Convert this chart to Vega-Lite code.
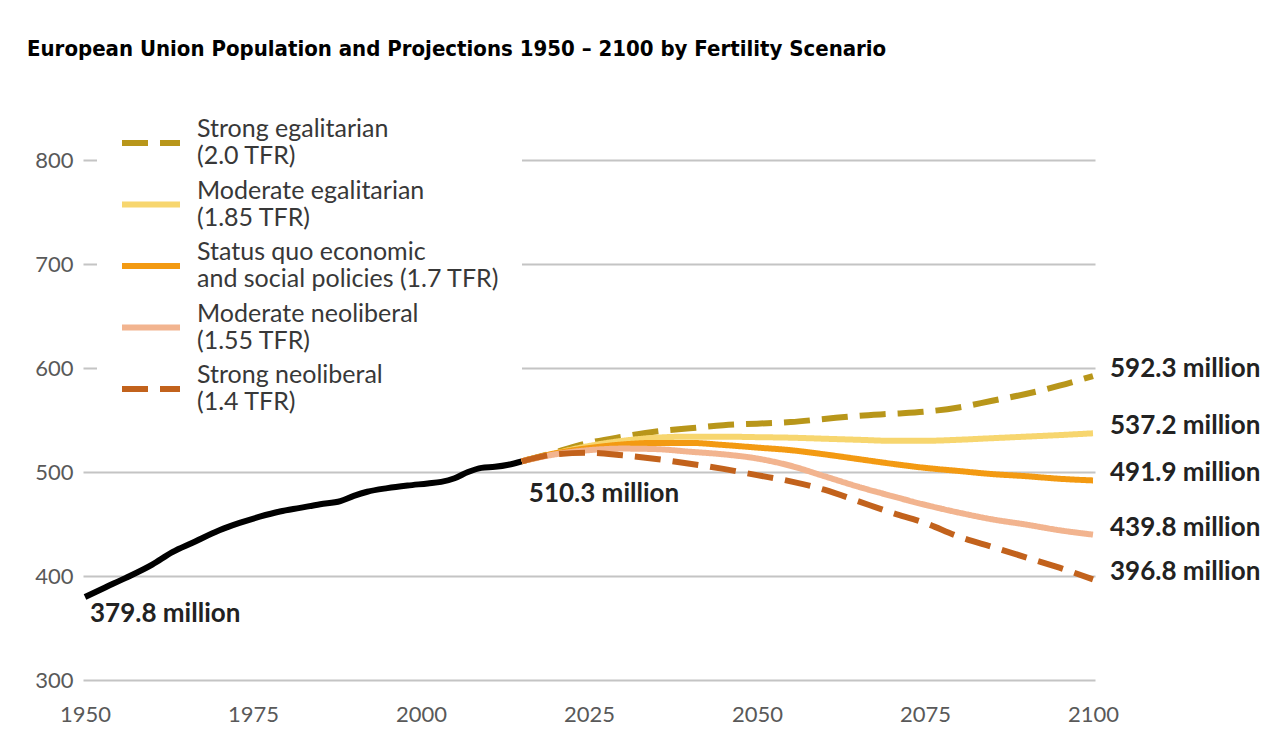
{
  "$schema": "https://vega.github.io/schema/vega-lite/v6.json",
  "width": 1012,
  "height": 520,
  "autosize": {"type": "none"},
  "padding": {"left": 83, "top": 160, "right": 185, "bottom": 75},
  "background": "white",
  "title": {
    "text": "European Union Population and Projections 1950 – 2100 by Fertility Scenario",
    "anchor": "start",
    "frame": "group",
    "font": "DejaVu Sans Condensed",
    "fontSize": 22,
    "fontWeight": "bold",
    "color": "black",
    "dx": -56,
    "offset": 28
  },
  "config": {
    "view": {"stroke": null},
    "style": {"guide-label": {"lineHeight": 27}},
    "axis": {
      "labelFont": "Lato",
      "labelFontSize": 22,
      "labelColor": "#595959",
      "domain": false,
      "ticks": false,
      "title": null
    }
  },
  "datasets": {
    "hist": [
      {"year": 1950, "pop": 379.8}, {"year": 1953, "pop": 389}, {"year": 1956, "pop": 398},
      {"year": 1960, "pop": 411}, {"year": 1963, "pop": 423}, {"year": 1966, "pop": 432},
      {"year": 1970, "pop": 444}, {"year": 1973, "pop": 451}, {"year": 1976, "pop": 457},
      {"year": 1979, "pop": 462}, {"year": 1982, "pop": 465.5}, {"year": 1985, "pop": 469},
      {"year": 1988, "pop": 472}, {"year": 1990, "pop": 477}, {"year": 1992, "pop": 481},
      {"year": 1995, "pop": 484.5}, {"year": 1998, "pop": 487}, {"year": 2001, "pop": 489},
      {"year": 2003, "pop": 490.5}, {"year": 2005, "pop": 494}, {"year": 2007, "pop": 500},
      {"year": 2009, "pop": 504}, {"year": 2011, "pop": 505}, {"year": 2013, "pop": 507},
      {"year": 2015, "pop": 510.3}
    ],
    "proj": [
      {"year": 2015, "scenario": "Strong egalitarian", "pop": 510.3},
      {"year": 2020, "scenario": "Strong egalitarian", "pop": 519},
      {"year": 2025, "scenario": "Strong egalitarian", "pop": 528},
      {"year": 2030, "scenario": "Strong egalitarian", "pop": 534},
      {"year": 2035, "scenario": "Strong egalitarian", "pop": 539},
      {"year": 2040, "scenario": "Strong egalitarian", "pop": 542},
      {"year": 2045, "scenario": "Strong egalitarian", "pop": 545},
      {"year": 2050, "scenario": "Strong egalitarian", "pop": 546.5},
      {"year": 2055, "scenario": "Strong egalitarian", "pop": 548},
      {"year": 2060, "scenario": "Strong egalitarian", "pop": 551},
      {"year": 2065, "scenario": "Strong egalitarian", "pop": 554},
      {"year": 2070, "scenario": "Strong egalitarian", "pop": 556},
      {"year": 2075, "scenario": "Strong egalitarian", "pop": 558},
      {"year": 2080, "scenario": "Strong egalitarian", "pop": 562},
      {"year": 2085, "scenario": "Strong egalitarian", "pop": 568.5},
      {"year": 2090, "scenario": "Strong egalitarian", "pop": 575},
      {"year": 2095, "scenario": "Strong egalitarian", "pop": 583},
      {"year": 2100, "scenario": "Strong egalitarian", "pop": 592.3},
      {"year": 2015, "scenario": "Moderate egalitarian", "pop": 510.3},
      {"year": 2020, "scenario": "Moderate egalitarian", "pop": 518},
      {"year": 2025, "scenario": "Moderate egalitarian", "pop": 525},
      {"year": 2030, "scenario": "Moderate egalitarian", "pop": 530},
      {"year": 2035, "scenario": "Moderate egalitarian", "pop": 533},
      {"year": 2040, "scenario": "Moderate egalitarian", "pop": 534},
      {"year": 2045, "scenario": "Moderate egalitarian", "pop": 534},
      {"year": 2050, "scenario": "Moderate egalitarian", "pop": 533.5},
      {"year": 2055, "scenario": "Moderate egalitarian", "pop": 533},
      {"year": 2060, "scenario": "Moderate egalitarian", "pop": 532},
      {"year": 2065, "scenario": "Moderate egalitarian", "pop": 531},
      {"year": 2070, "scenario": "Moderate egalitarian", "pop": 530},
      {"year": 2075, "scenario": "Moderate egalitarian", "pop": 530},
      {"year": 2080, "scenario": "Moderate egalitarian", "pop": 531},
      {"year": 2085, "scenario": "Moderate egalitarian", "pop": 532.5},
      {"year": 2090, "scenario": "Moderate egalitarian", "pop": 534},
      {"year": 2095, "scenario": "Moderate egalitarian", "pop": 535.5},
      {"year": 2100, "scenario": "Moderate egalitarian", "pop": 537.2},
      {"year": 2015, "scenario": "Status quo", "pop": 510.3},
      {"year": 2020, "scenario": "Status quo", "pop": 518},
      {"year": 2025, "scenario": "Status quo", "pop": 523},
      {"year": 2030, "scenario": "Status quo", "pop": 526.5},
      {"year": 2035, "scenario": "Status quo", "pop": 528},
      {"year": 2040, "scenario": "Status quo", "pop": 528},
      {"year": 2045, "scenario": "Status quo", "pop": 526},
      {"year": 2050, "scenario": "Status quo", "pop": 523.5},
      {"year": 2055, "scenario": "Status quo", "pop": 521},
      {"year": 2060, "scenario": "Status quo", "pop": 517},
      {"year": 2065, "scenario": "Status quo", "pop": 512.5},
      {"year": 2070, "scenario": "Status quo", "pop": 508},
      {"year": 2075, "scenario": "Status quo", "pop": 504},
      {"year": 2080, "scenario": "Status quo", "pop": 501},
      {"year": 2085, "scenario": "Status quo", "pop": 498},
      {"year": 2090, "scenario": "Status quo", "pop": 496},
      {"year": 2095, "scenario": "Status quo", "pop": 493.5},
      {"year": 2100, "scenario": "Status quo", "pop": 491.9},
      {"year": 2015, "scenario": "Moderate neoliberal", "pop": 510.3},
      {"year": 2020, "scenario": "Moderate neoliberal", "pop": 517},
      {"year": 2025, "scenario": "Moderate neoliberal", "pop": 521},
      {"year": 2030, "scenario": "Moderate neoliberal", "pop": 522.5},
      {"year": 2035, "scenario": "Moderate neoliberal", "pop": 522},
      {"year": 2040, "scenario": "Moderate neoliberal", "pop": 519.5},
      {"year": 2045, "scenario": "Moderate neoliberal", "pop": 517},
      {"year": 2050, "scenario": "Moderate neoliberal", "pop": 513},
      {"year": 2055, "scenario": "Moderate neoliberal", "pop": 506},
      {"year": 2060, "scenario": "Moderate neoliberal", "pop": 496},
      {"year": 2065, "scenario": "Moderate neoliberal", "pop": 486},
      {"year": 2070, "scenario": "Moderate neoliberal", "pop": 477},
      {"year": 2075, "scenario": "Moderate neoliberal", "pop": 468.5},
      {"year": 2080, "scenario": "Moderate neoliberal", "pop": 461},
      {"year": 2085, "scenario": "Moderate neoliberal", "pop": 454.5},
      {"year": 2090, "scenario": "Moderate neoliberal", "pop": 449.5},
      {"year": 2095, "scenario": "Moderate neoliberal", "pop": 444},
      {"year": 2100, "scenario": "Moderate neoliberal", "pop": 439.8},
      {"year": 2015, "scenario": "Strong neoliberal", "pop": 510.3},
      {"year": 2020, "scenario": "Strong neoliberal", "pop": 517},
      {"year": 2025, "scenario": "Strong neoliberal", "pop": 518.5},
      {"year": 2030, "scenario": "Strong neoliberal", "pop": 516},
      {"year": 2035, "scenario": "Strong neoliberal", "pop": 512.5},
      {"year": 2040, "scenario": "Strong neoliberal", "pop": 508},
      {"year": 2045, "scenario": "Strong neoliberal", "pop": 503},
      {"year": 2050, "scenario": "Strong neoliberal", "pop": 497},
      {"year": 2055, "scenario": "Strong neoliberal", "pop": 491},
      {"year": 2060, "scenario": "Strong neoliberal", "pop": 483},
      {"year": 2065, "scenario": "Strong neoliberal", "pop": 472},
      {"year": 2070, "scenario": "Strong neoliberal", "pop": 461},
      {"year": 2075, "scenario": "Strong neoliberal", "pop": 451},
      {"year": 2080, "scenario": "Strong neoliberal", "pop": 438},
      {"year": 2085, "scenario": "Strong neoliberal", "pop": 428},
      {"year": 2090, "scenario": "Strong neoliberal", "pop": 418},
      {"year": 2095, "scenario": "Strong neoliberal", "pop": 408},
      {"year": 2100, "scenario": "Strong neoliberal", "pop": 396.8}
    ],
    "notes": [
      {"year": 2100, "pop": 592.3, "kind": "end", "text": "592.3 million"},
      {"year": 2100, "pop": 537.2, "kind": "end", "text": "537.2 million"},
      {"year": 2100, "pop": 491.9, "kind": "end", "text": "491.9 million"},
      {"year": 2100, "pop": 439.8, "kind": "end", "text": "439.8 million"},
      {"year": 2100, "pop": 396.8, "kind": "end", "text": "396.8 million"},
      {"year": 1950, "pop": 379.8, "kind": "start", "text": "379.8 million"},
      {"year": 2015, "pop": 510.3, "kind": "mid", "text": "510.3 million"}
    ]
  },
  "layer": [
    {
      "data": {"name": "hist"},
      "mark": {"type": "line", "color": "black", "strokeWidth": 6, "interpolate": "monotone", "strokeCap": "butt"},
      "encoding": {
        "x": {
          "field": "year", "type": "quantitative",
          "scale": {"domain": [1949.7, 2100.3], "nice": false, "zero": false},
          "axis": {"values": [1950, 1975, 2000, 2025, 2050, 2075, 2100], "format": "d", "grid": false, "labelPadding": 24}
        },
        "y": {
          "field": "pop", "type": "quantitative",
          "scale": {"domain": [300, 800], "nice": false, "zero": false},
          "axis": {"values": [300, 400, 500, 600, 700, 800], "grid": true, "gridColor": "#c4c4c4", "gridWidth": 2, "labelPadding": 10}
        }
      }
    },
    {
      "data": {"name": "proj"},
      "mark": {"type": "line", "strokeWidth": 6, "interpolate": "monotone"},
      "encoding": {
        "x": {"field": "year", "type": "quantitative"},
        "y": {"field": "pop", "type": "quantitative"},
        "color": {
          "field": "scenario", "type": "nominal",
          "scale": {
            "domain": ["Strong egalitarian", "Moderate egalitarian", "Status quo", "Moderate neoliberal", "Strong neoliberal"],
            "range": ["#b8961a", "#f7d66f", "#f39a12", "#f2b48f", "#c2621c"]
          },
          "legend": {
            "title": null, "orient": "none", "legendX": 14, "legendY": -71,
            "fillColor": "white", "padding": 22,
            "symbolType": "stroke", "symbolSize": 3364, "symbolStrokeWidth": 6,
            "labelFont": "Lato", "labelFontSize": 25, "labelColor": "#383838",
            "labelBaseline": "line-bottom",
            "labelLimit": 600, "labelOffset": 14, "rowPadding": 3.5,
            "labelExpr": "{'Strong egalitarian': ['Strong egalitarian', '(2.0 TFR)'], 'Moderate egalitarian': ['Moderate egalitarian', '(1.85 TFR)'], 'Status quo': ['Status quo economic', 'and social policies (1.7 TFR)'], 'Moderate neoliberal': ['Moderate neoliberal', '(1.55 TFR)'], 'Strong neoliberal': ['Strong neoliberal', '(1.4 TFR)']}[datum.label]"
          }
        },
        "strokeDash": {
          "field": "scenario", "type": "nominal",
          "scale": {
            "domain": ["Strong egalitarian", "Moderate egalitarian", "Status quo", "Moderate neoliberal", "Strong neoliberal"],
            "range": [[26, 12], [1, 0], [1, 0], [1, 0], [26, 12]]
          },
          "legend": {
            "title": null, "orient": "none", "legendX": 14, "legendY": -71,
            "fillColor": "white", "padding": 22,
            "symbolType": "stroke", "symbolSize": 3364, "symbolStrokeWidth": 6,
            "labelFont": "Lato", "labelFontSize": 25, "labelColor": "#383838",
            "labelBaseline": "line-bottom",
            "labelLimit": 600, "labelOffset": 14, "rowPadding": 3.5,
            "labelExpr": "{'Strong egalitarian': ['Strong egalitarian', '(2.0 TFR)'], 'Moderate egalitarian': ['Moderate egalitarian', '(1.85 TFR)'], 'Status quo': ['Status quo economic', 'and social policies (1.7 TFR)'], 'Moderate neoliberal': ['Moderate neoliberal', '(1.55 TFR)'], 'Strong neoliberal': ['Strong neoliberal', '(1.4 TFR)']}[datum.label]"
          }
        }
      }
    },
    {
      "data": {"name": "notes"},
      "transform": [{"filter": "datum.kind === 'end'"}],
      "mark": {"type": "text", "align": "left", "dx": 17, "dy": -7, "font": "Lato", "fontSize": 26, "fontWeight": "bold", "color": "#222222"},
      "encoding": {
        "x": {"field": "year", "type": "quantitative"},
        "y": {"field": "pop", "type": "quantitative"},
        "text": {"field": "text"}
      }
    },
    {
      "data": {"name": "notes"},
      "transform": [{"filter": "datum.kind === 'start'"}],
      "mark": {"type": "text", "align": "left", "dx": 5, "dy": 17, "font": "Lato", "fontSize": 26, "fontWeight": "bold", "color": "#222222"},
      "encoding": {
        "x": {"field": "year", "type": "quantitative"},
        "y": {"field": "pop", "type": "quantitative"},
        "text": {"field": "text"}
      }
    },
    {
      "data": {"name": "notes"},
      "transform": [{"filter": "datum.kind === 'mid'"}],
      "mark": {"type": "text", "align": "left", "dx": 7, "dy": 33, "font": "Lato", "fontSize": 26, "fontWeight": "bold", "color": "#222222"},
      "encoding": {
        "x": {"field": "year", "type": "quantitative"},
        "y": {"field": "pop", "type": "quantitative"},
        "text": {"field": "text"}
      }
    }
  ]
}
